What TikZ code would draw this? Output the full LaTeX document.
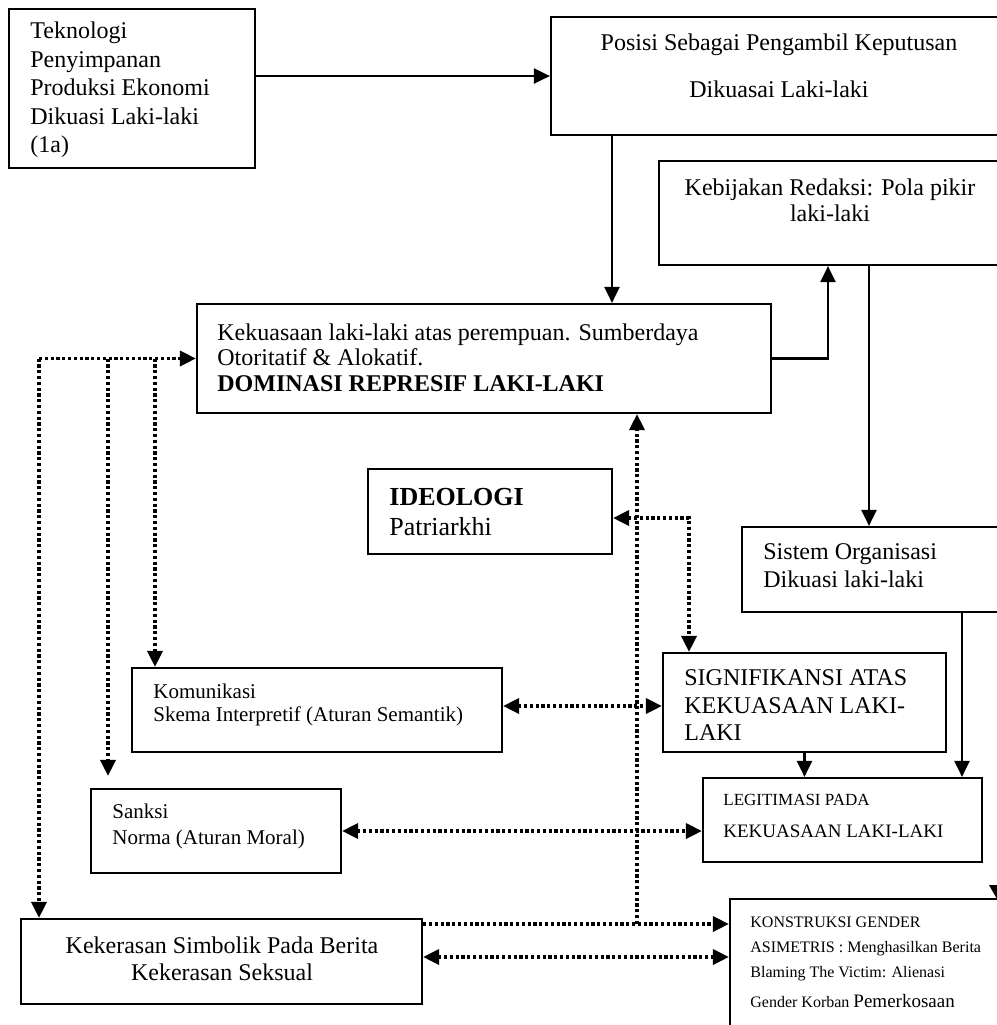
\documentclass[tikz,border=0pt]{standalone}
\usepackage{fontspec}
\setmainfont{Liberation Serif}
\usetikzlibrary{fit,arrows.meta,calc}
\begin{document}
\begin{tikzpicture}[x=0.5pt,y=-0.5pt,
  box/.style={draw, line width=1.1pt, inner sep=0pt},
  tip/.tip={Triangle[length=8pt,width=7.5pt]},
  arr/.style={line width=1.1pt, -tip},
  dotl/.style={line width=1.8pt, dash pattern=on 1.6pt off 1.3pt},
  dotarr/.style={dotl, -tip},
  dotboth/.style={dotl, tip-tip},
  txt/.style={inner sep=0pt, align=left, anchor=west, font=\fontsize{12}{14}\selectfont},
  ctxt/.style={inner sep=0pt, align=center, anchor=center, font=\fontsize{12}{14}\selectfont}]
\useasboundingbox (0,0) rectangle (997,1025);
\clip (0,0) rectangle (997,1025);
% boxes
\node[box, fit={(9,9)(255,168)}] (tek) {};
\node[box, fit={(551,17)(1010,135)}] (pos) {};
\node[box, fit={(659,161)(1010,265)}] (keb) {};
\node[box, fit={(197,304)(771,413)}] (kek) {};
\node[box, fit={(368,469)(612,554)}] (ide) {};
\node[box, fit={(742,527)(1010,612)}] (sis) {};
\node[box, fit={(132,668)(502,752)}] (kom) {};
\node[box, fit={(663,653)(946,752)}] (sig) {};
\node[box, fit={(91,789)(341,873)}] (san) {};
\node[box, fit={(703,778)(982,862)}] (leg) {};
\node[box, fit={(21,919)(422,1004)}] (kkr) {};
\node[box, fit={(730,899)(1010,1045)}] (kon) {};
% texts
\node[txt, font=\fontsize{12}{14.25}\selectfont] (tTek) at (30,90) {Teknologi\\Penyimpanan\\Produksi Ekonomi\\Dikuasi Laki-laki\\(1a)};
\node[ctxt] (tPos) at (779,66) {Posisi Sebagai Pengambil Keputusan\\[9.5pt]Dikuasai Laki-laki};
\node[ctxt, font=\fontsize{12}{13}\selectfont] (tKeb) at (830,200) {Kebijakan Redaksi: Pola pikir\\laki-laki};
\node[txt, font=\fontsize{12}{12.75}\selectfont] (tKek) at (217,357.5) {Kekuasaan laki-laki atas perempuan. Sumberdaya\\Otoritatif \& Alokatif.\\\textbf{DOMINASI REPRESIF LAKI-LAKI}};
\node[txt, font=\fontsize{13}{15}\selectfont] (tIde) at (389,512) {\textbf{IDEOLOGI}\\Patriarkhi};
\node[txt] (tSis) at (763,566) {Sistem Organisasi\\Dikuasi laki-laki};
\node[txt, font=\fontsize{12}{13.75}\selectfont] (tSig) at (684,705.5) {SIGNIFIKANSI ATAS\\KEKUASAAN LAKI-\\LAKI};
\node[txt, font=\fontsize{10.5}{11.5}\selectfont] (tKom) at (153,704.5) {Komunikasi\\Skema Interpretif (Aturan Semantik)};
\node[txt, font=\fontsize{10.5}{13}\selectfont] (tSan) at (112,826) {Sanksi\\Norma (Aturan Moral)};
\node[txt, font=\fontsize{8.5}{16}\selectfont] (tLeg) at (723,816) {LEGITIMASI PADA\\{\fontsize{9.5}{16}\selectfont KEKUASAAN LAKI-LAKI}};
\node[ctxt, font=\fontsize{12}{13.5}\selectfont] (tKkr) at (222,958.5) {Kekerasan Simbolik Pada Berita\\Kekerasan Seksual};
\node[txt, font=\fontsize{8}{12.5}\selectfont] (tKon) at (750,962) {KONSTRUKSI GENDER\\ASIMETRIS : Menghasilkan Berita\\Blaming The Victim: Alienasi\\[2.5pt]Gender Korban {\fontsize{9.5}{12.5}\selectfont Pemerkosaan}};
% helper coordinates
\coordinate (xA) at (612,0);
\coordinate (xB) at (828,0);
\coordinate (xC) at (869,0);
\coordinate (xD) at (962,0);
\coordinate (xF) at (689,0);
\coordinate (xG) at (637,0);
\coordinate (xL1) at (39,0);
\coordinate (xL2) at (108,0);
\coordinate (xL3) at (155,0);
\coordinate (yK) at (0,706);
\coordinate (yK2) at (0,924);
\coordinate (yK3) at (0,957);
\coordinate (sanA) at ([yshift=6pt]san.north);
\coordinate (ideA) at ([yshift=-3.25pt]ide.east);
% solid connectors
\draw[arr] (tek.east |- pos.west) -- (pos.west);
\draw[arr] (pos.south -| xA) -- (kek.north -| xA);
\draw[arr] (kek.east) -| (keb.south -| xB);
\draw[arr] (keb.south -| xC) -- (sis.north -| xC);
\draw[arr] (sis.south -| xD) -- (leg.north -| xD);
\draw[arr] (sig.south) -- (leg.north -| sig.south);
% dotted connectors
\draw[dotarr] (kek.west -| xL1) -- (kek.west);
\draw[dotarr] (kek.west -| xL1) -- (kkr.north -| xL1);
\draw[dotarr] (kek.west -| xL2) -- (sanA -| xL2);
\draw[dotarr] (kek.west -| xL3) -- (kom.north -| xL3);
\draw[dotboth] (ideA) -| (sig.north -| xF);
\draw[dotboth] (kom.east |- yK) -- (sig.west |- yK);
\draw[dotboth] (san.east) -- (san.east -| leg.west);
\draw[dotarr] (kkr.east |- yK2) -- (kon.west |- yK2);
\draw[dotarr] (xG |- yK2) -- (kek.south -| xG);
\draw[dotboth] (kkr.east |- yK3) -- (kon.west |- yK3);
% clipped arrow tip at the right edge
\fill (989,885) -- (1005,885) -- (997,899) -- cycle;
\end{tikzpicture}
\end{document}
